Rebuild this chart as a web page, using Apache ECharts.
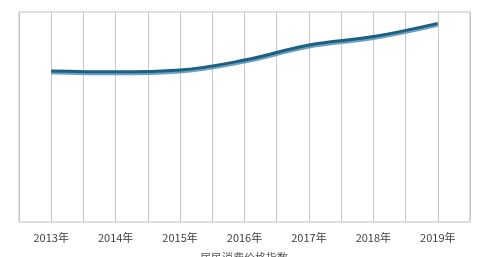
<!DOCTYPE html>
<html><head><meta charset="utf-8">
<script src="https://cdn.jsdelivr.net/npm/echarts@6/dist/echarts.min.js"></script>
<style>html,body{margin:0;padding:0;background:#fff}#c{width:488px;height:257px}</style>
</head><body><div id="c"></div>
<script>
var categories = ['2013年','2014年','2015年','2016年','2017年','2018年','2019年'];
var values = [71.9, 71.5, 72.4, 77.1, 84.3, 88.3, 94.6];
var gridTicks = ['','','','','','','','','','','','','','',''];
var axisName = '居民消费价格指数';

var chart = echarts.init(document.getElementById('c'));
chart.setOption({
  animation: false,
  title: {text: axisName, left: 'center', top: 252, padding: 0,
          textStyle: {color: '#595959', fontSize: 11, fontWeight: 'normal', fontFamily: 'Noto Sans CJK SC'}},
  grid: {left: 19, right: 18, top: 12, bottom: 35, show: true, borderColor: '#bfbfbf', borderWidth: 1,
         containLabel: false, outerBoundsMode: 'none'},
  xAxis: [{
    type: 'category', data: categories, boundaryGap: true,
    axisLine: {show: false}, axisTick: {show: false},
    axisLabel: {color: '#404040', fontSize: 11, fontFamily: 'Noto Sans CJK SC', margin: 10},
    splitLine: {show: false}
  }, {
    type: 'category', data: gridTicks, boundaryGap: false, position: 'bottom',
    axisLine: {show: false}, axisTick: {show: false}, axisLabel: {show: false},
    splitLine: {show: true, interval: 0, lineStyle: {color: '#c8c8c8', width: 1}}
  }],
  yAxis: {type: 'value', min: 0, max: 100, show: false, splitLine: {show: false}},
  series: [{
    type: 'line', data: values, xAxisIndex: 0, smooth: 0.4, symbol: 'none',
    lineStyle: {color: '#1c5f80', width: 3, shadowColor: 'rgba(90,150,185,0.9)', shadowBlur: 0, shadowOffsetY: 2}
  }]
});
</script></body></html>
